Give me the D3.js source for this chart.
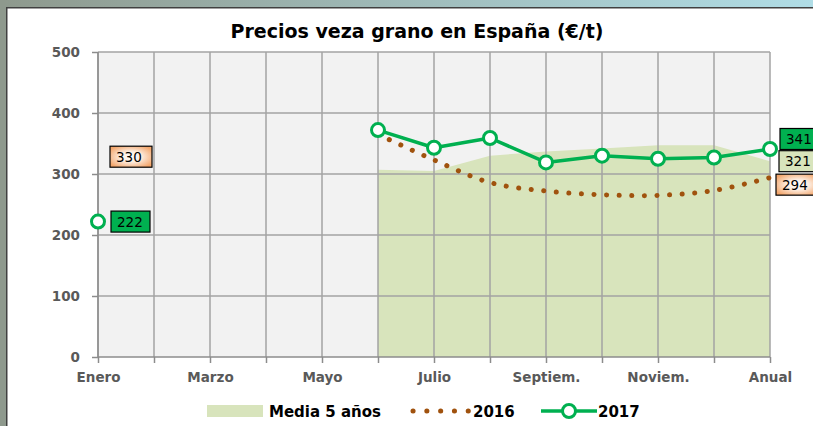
<!DOCTYPE html>
<html>
<head>
<meta charset="utf-8">
<script src="https://cdn.jsdelivr.net/npm/d3@7"></script>
<style>
  html, body { margin: 0; padding: 0; background: #ffffff; }
  svg { display: block; }
</style>
</head>
<body>
<svg id="chart" width="813" height="426" font-family="DejaVu Sans, Verdana, sans-serif"></svg>
<script>
// Monthly categories (13 points: twelve months plus the annual average)
const categories = ["Enero", "Febrero", "Marzo", "Abril", "Mayo", "Junio", "Julio",
                    "Agosto", "Septiem.", "Octubre", "Noviem.", "Diciem.", "Anual"];
const tickLabels = ["Enero", "", "Marzo", "", "Mayo", "", "Julio",
                    "", "Septiem.", "", "Noviem.", "", "Anual"];
const yTicks = [0, 100, 200, 300, 400, 500];

// Prices in €/t (null = no quotation)
const media5 = [null, null, null, null, null, 307, 305, 330, 337, 342, 347, 347, 321];
const s2016  = [330, null, null, null, null, 365, 323, 286, 272, 266, 265, 273, 294];
const s2017  = [222, null, null, null, null, 372, 343, 359, 319, 330, 325, 327, 341];

const svg = d3.select("#chart");
const W = 813, H = 426;
const font = "DejaVu Sans, Verdana, sans-serif";

// Outer frame
const defs = svg.append("defs");
const bg = defs.append("linearGradient").attr("id", "bgGrad")
  .attr("x1", "0%").attr("x2", "100%").attr("y1", "0%").attr("y2", "0%");
bg.append("stop").attr("offset", "0%").attr("stop-color", "#8e998d");
bg.append("stop").attr("offset", "100%").attr("stop-color", "#b0dde6");
svg.append("rect").attr("width", W).attr("height", H).attr("fill", "url(#bgGrad)");
svg.append("rect").attr("x", 0).attr("y", 0).attr("width", 6).attr("height", H).attr("fill", "#8e998d");
svg.append("rect").attr("x", 6).attr("y", 7).attr("width", W - 6).attr("height", H - 7).attr("fill", "#404040");
svg.append("rect").attr("x", 7.5).attr("y", 8.5).attr("width", W - 7).attr("height", H - 8).attr("fill", "#ffffff");

// Orange label gradient
const og = defs.append("radialGradient").attr("id", "orangeGrad")
  .attr("cx", "50%").attr("cy", "50%").attr("r", "60%");
og.append("stop").attr("offset", "0%").attr("stop-color", "#ffffff");
og.append("stop").attr("offset", "40%").attr("stop-color", "#fdeee2");
og.append("stop").attr("offset", "100%").attr("stop-color", "#f3a66c");

// Title
svg.append("text")
  .attr("x", 417).attr("y", 38)
  .attr("text-anchor", "middle")
  .attr("font-family", font)
  .attr("font-size", 19).attr("font-weight", "bold").attr("fill", "#000")
  .text("Precios veza grano en España (€/t)");

// Scales
const pLeft = 98, pRight = 770, pTop = 52, pBottom = 357;
const x = d3.scalePoint().domain(categories).range([pLeft, pRight]);
const y = d3.scaleLinear().domain([0, 500]).range([pBottom, pTop]);

// Plot background
svg.append("rect")
  .attr("x", pLeft).attr("y", pTop)
  .attr("width", pRight - pLeft).attr("height", pBottom - pTop)
  .attr("fill", "#f2f2f2");

// 5-year average area
const areaData = categories.map((c, i) => ({ c, v: media5[i] })).filter(d => d.v != null);
svg.append("path")
  .datum(areaData)
  .attr("fill", "#d8e4bc")
  .attr("d", d3.area().x(d => x(d.c)).y0(y(0)).y1(d => y(d.v)));

// Grid
const grid = svg.append("g").attr("stroke", "#a3a3a3").attr("stroke-width", 1.5);
grid.selectAll("line.h").data(yTicks.filter(t => t > 0)).join("line")
  .attr("class", "h")
  .attr("x1", pLeft).attr("x2", pRight)
  .attr("y1", d => y(d)).attr("y2", d => y(d));
grid.selectAll("line.v").data(categories).join("line")
  .attr("class", "v")
  .attr("x1", d => x(d)).attr("x2", d => x(d))
  .attr("y1", pTop).attr("y2", pBottom);

// Y axis
const yAxis = svg.append("g")
  .attr("transform", `translate(${pLeft},0)`)
  .call(d3.axisLeft(y).tickValues(yTicks).tickSize(6).tickPadding(12));
yAxis.attr("font-family", font);
yAxis.select(".domain").attr("stroke", "#8c8c8c").attr("stroke-width", 1.5)
  .attr("d", `M0,${pTop}V${pBottom}`);
yAxis.selectAll(".tick line").attr("stroke", "#8c8c8c").attr("stroke-width", 1.5);
yAxis.selectAll(".tick text")
  .attr("font-size", 13.5).attr("font-weight", "bold").attr("fill", "#595959");

// X axis
const xAxis = svg.append("g")
  .attr("transform", `translate(0,${pBottom})`)
  .call(d3.axisBottom(x).tickSize(6).tickPadding(9)
    .tickFormat((d, i) => tickLabels[i]));
xAxis.attr("font-family", font);
xAxis.select(".domain").attr("stroke", "#8c8c8c").attr("stroke-width", 1.5)
  .attr("d", `M${pLeft},0H${pRight}`);
xAxis.selectAll(".tick line").attr("stroke", "#8c8c8c").attr("stroke-width", 1.5);
xAxis.selectAll(".tick text")
  .attr("font-size", 13.5).attr("font-weight", "bold").attr("fill", "#595959");

// 2016: smoothed dotted line
const d2016 = categories.map((c, i) => ({ c, v: s2016[i] }));
const seg2016 = d2016.filter((d, i) => i >= 5);
svg.append("path")
  .datum(seg2016)
  .attr("fill", "none")
  .attr("stroke", "#a0520e")
  .attr("stroke-width", 5)
  .attr("stroke-linecap", "round")
  .attr("stroke-dasharray", "0.1 12.5")
  .attr("d", d3.line().x(d => x(d.c)).y(d => y(d.v)).curve(d3.curveCatmullRom.alpha(0.5)));

// 2017: solid line with hollow markers
const d2017 = categories.map((c, i) => ({ c, v: s2017[i] }));
svg.append("path")
  .datum(d2017)
  .attr("fill", "none")
  .attr("stroke", "#00b050")
  .attr("stroke-width", 3.5)
  .attr("stroke-linejoin", "round")
  .attr("d", d3.line().defined(d => d.v != null).x(d => x(d.c)).y(d => y(d.v)));
svg.selectAll("circle.m17").data(d2017.filter(d => d.v != null)).join("circle")
  .attr("class", "m17")
  .attr("cx", d => x(d.c)).attr("cy", d => y(d.v))
  .attr("r", 6.5)
  .attr("fill", "#ffffff")
  .attr("stroke", "#00b050")
  .attr("stroke-width", 3);

// Value labels (text starts a few pixels inside the box)
function valueLabel(lx, cy, w, value, fill) {
  const g = svg.append("g");
  g.append("rect")
    .attr("x", lx).attr("y", cy - 10.5)
    .attr("width", w).attr("height", 21)
    .attr("fill", fill).attr("stroke", "#000").attr("stroke-width", 1.2);
  g.append("text")
    .attr("x", lx + 6).attr("y", cy + 5)
    .attr("font-family", font)
    .attr("font-size", 13.5).attr("fill", "#000")
    .text(value);
}
const iFirst = 0, iLast = categories.length - 1;
valueLabel(x(categories[iFirst]) + 12, y(s2016[iFirst]) + 1, 42, s2016[iFirst], "url(#orangeGrad)");
valueLabel(x(categories[iFirst]) + 13, y(s2017[iFirst]), 39, s2017[iFirst], "#00b050");
valueLabel(x(categories[iLast]) + 10, y(s2017[iLast]) - 10, 44, s2017[iLast], "#00b050");
valueLabel(x(categories[iLast]) + 9, y(media5[iLast]), 44, media5[iLast], "#d8e4bc");
valueLabel(x(categories[iLast]) + 6, y(s2016[iLast]) + 7, 44, s2016[iLast], "url(#orangeGrad)");

// Legend
const ly = 411;
const legend = svg.append("g")
  .attr("font-family", font)
  .attr("font-size", 15).attr("font-weight", "bold").attr("fill", "#000");
legend.append("rect").attr("x", 207).attr("y", ly - 6).attr("width", 56).attr("height", 12).attr("fill", "#d8e4bc");
legend.append("text").attr("x", 269).attr("y", ly + 5.5).text("Media 5 años");
legend.append("line")
  .attr("x1", 413).attr("x2", 470).attr("y1", ly).attr("y2", ly)
  .attr("stroke", "#a0520e").attr("stroke-width", 5)
  .attr("stroke-linecap", "round").attr("stroke-dasharray", "0.1 13.7");
legend.append("text").attr("x", 473).attr("y", ly + 5.5).text("2016");
legend.append("line")
  .attr("x1", 541).attr("x2", 597).attr("y1", ly).attr("y2", ly)
  .attr("stroke", "#00b050").attr("stroke-width", 3.5);
legend.append("circle").attr("cx", 569).attr("cy", ly).attr("r", 6.5)
  .attr("fill", "#fff").attr("stroke", "#00b050").attr("stroke-width", 3);
legend.append("text").attr("x", 598).attr("y", ly + 5.5).text("2017");
</script>
</body>
</html>
